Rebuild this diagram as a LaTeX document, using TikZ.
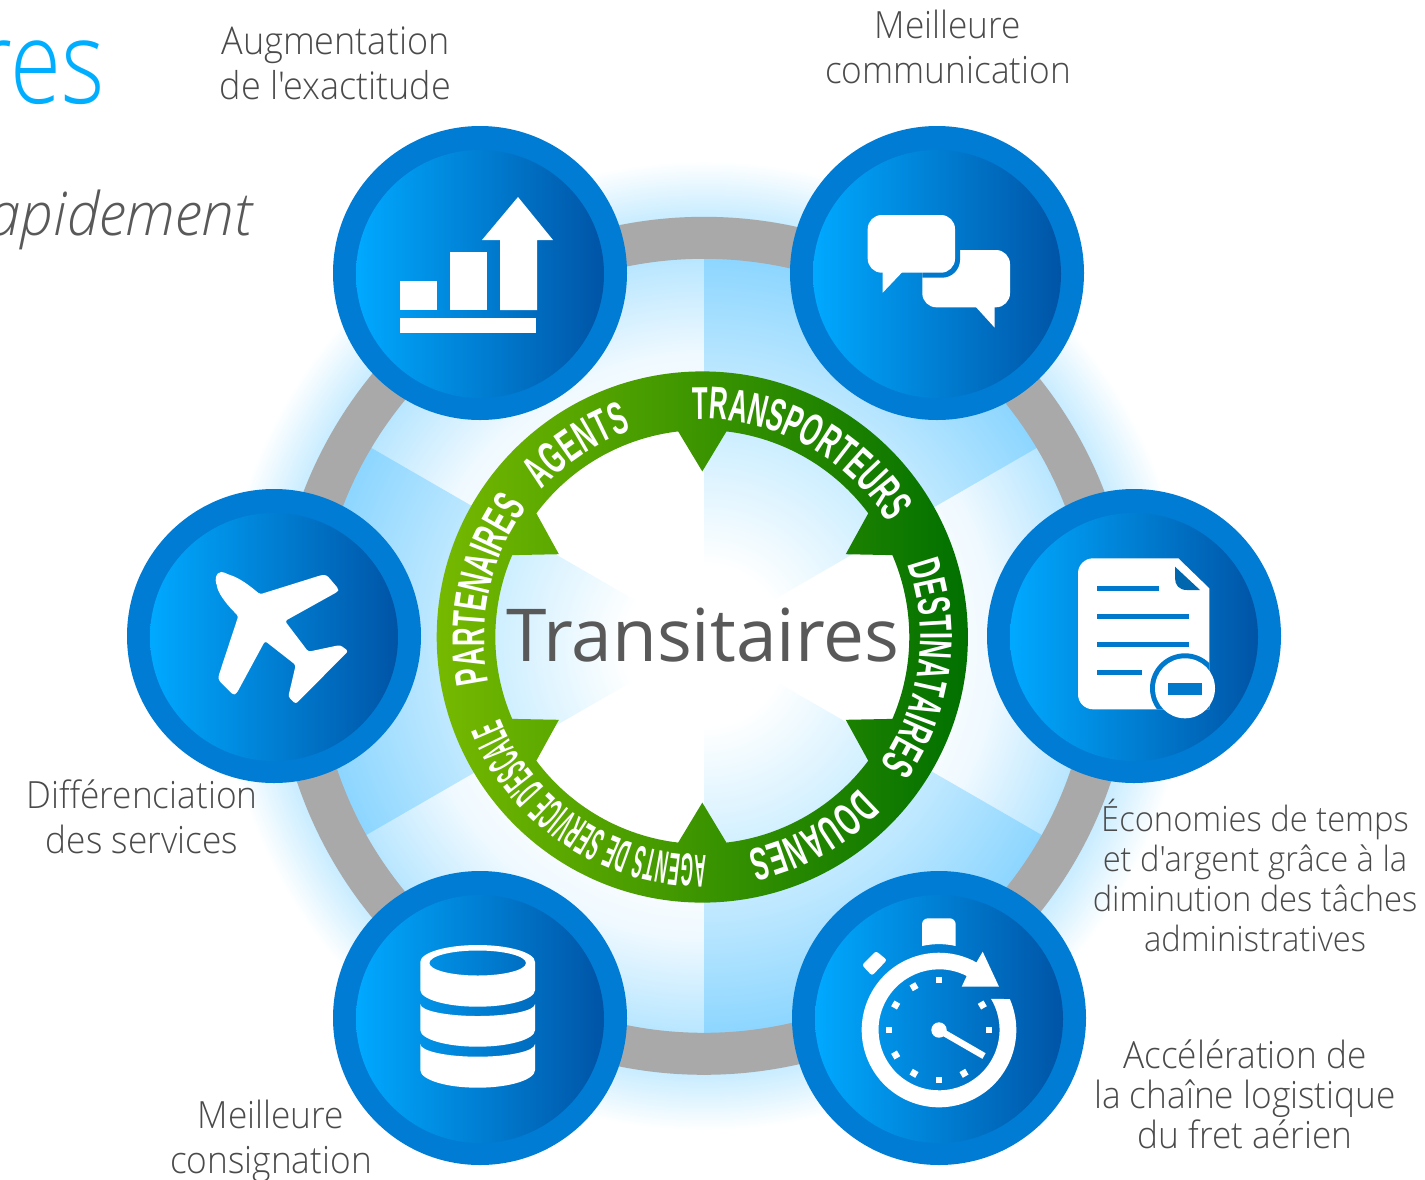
\documentclass[tikz,border=0pt]{standalone}
\usepackage{fontspec}
\usetikzlibrary{decorations.text}
\setmainfont{Open Sans}
\newfontfamily\labfont[FakeStretch=0.94]{Open Sans Light}
\newfontfamily\bigfont[FakeStretch=1.0]{Open Sans}
\newfontfamily\titlefont[FakeStretch=0.80]{Open Sans Light}
\newfontfamily\subfont[FakeStretch=0.97,ItalicFont={Open Sans Light Italic}]{Open Sans Light}
\newfontfamily\ringA[FakeStretch=0.56]{Liberation Sans Bold}
\newfontfamily\ringB[FakeStretch=0.35]{Liberation Sans Bold}
\definecolor{txt}{HTML}{595959}
\definecolor{labtxt}{HTML}{4A4A4A}
\definecolor{titleblue}{HTML}{00AEFF}
\definecolor{discout}{HTML}{007CD4}
\definecolor{discL}{HTML}{00A9FF}
\definecolor{discR}{HTML}{0054A6}
\definecolor{ringL}{HTML}{76B900}
\definecolor{ringR}{HTML}{007000}
\definecolor{grayring}{HTML}{A9A9A9}
\definecolor{iconblue}{HTML}{0078CC}
\definecolor{la}{HTML}{EFF9FF}
\definecolor{lb}{HTML}{B8E6FF}
\definecolor{lc}{HTML}{C8ECFF}
\definecolor{ba}{HTML}{CFEFFF}
\definecolor{bb}{HTML}{BEE8FF}
\definecolor{bc}{HTML}{8DD6FF}
\pgfdeclareradialshading{glowlight}{\pgfpoint{0bp}{0bp}}{color(0bp)=(white); color(11.08bp)=(white); color(15.05bp)=(la); color(19.95bp)=(lb); color(22.11bp)=(lc); color(25bp)=(white); color(50bp)=(white)}
\pgfdeclareradialshading{glowblue}{\pgfpoint{0bp}{0bp}}{color(0bp)=(white); color(4.12bp)=(white); color(10.67bp)=(ba); color(13.8bp)=(bb); color(19.95bp)=(bc); color(22.11bp)=(lc); color(25bp)=(white); color(50bp)=(white)}
\tikzset{
  lab/.style={anchor=base,inner sep=0pt,text=labtxt,font=\labfont\fontsize{37.5}{37.5}\selectfont},
  labwide/.style={lab,font=\labfont\fontsize{38.3}{38.3}\selectfont},
  labsmall/.style={lab,font=\labfont\fontsize{34.8}{34.8}\selectfont},
  discouter/.style={fill=discout},
  discinner/.style={left color=discL,right color=discR},
  sector/.style={shading=glowblue},
  ringtext/.style={decorate,decoration={text along path,text align=fit to path,text={#1}}}
}
\begin{document}
\begin{tikzpicture}[x=1pt,y=1pt]
\useasboundingbox (0,0) rectangle (1425,-1179);
\clip (0,0) rectangle (1425,-1179);
\fill[white] (0,0) rectangle (1425,-1179);
% glow
\shade[shading=glowlight] (704,-645.5) circle (485);
\foreach \a in {90,-30,210}{
  \begin{scope}
    \clip[shift={(704,-640)}] (0,0) -- (\a:800) -- (\a-30:900) -- (\a-60:800) -- cycle;
    \shade[sector] (704,-645.5) circle (485);
  \end{scope}
}
% grey ring
\draw[grayring,line width=42pt] (704,-645.8) circle (408);
% green ring with arrows
\shade[left color=ringL,right color=ringR,even odd rule,shift={(702.3,-637)}]
  (0,0) circle (265.6)
  (83.3:207) arc[start angle=83.3,end angle=36.7,radius=207] -- (30:165.6)
  -- (23.3:207) arc[start angle=23.3,end angle=-23.3,radius=207] -- (-30:165.6)
  -- (-36.7:207) arc[start angle=-36.7,end angle=-83.3,radius=207] -- (-90:165.6)
  -- (-96.7:207) arc[start angle=-96.7,end angle=-143.3,radius=207] -- (-150:165.6)
  -- (-156.7:207) arc[start angle=-156.7,end angle=-203.3,radius=207] -- (-210:165.6)
  -- (-216.7:207) arc[start angle=-216.7,end angle=-263.3,radius=207] -- (90:165.6) -- cycle;
\begin{scope}[shift={(702.3,-637)}]
  \path[ringtext={|\ringA\fontsize{46}{46}\selectfont\color{white}|TRANSPORTEURS}] (92.5:218) arc[start angle=92.5,end angle=33,radius=218];
  \path[ringtext={|\ringA\fontsize{46}{46}\selectfont\color{white}|DESTINATAIRES}] (19.5:218) arc[start angle=19.5,end angle=-35.5,radius=218];
  \path[ringtext={|\ringA\fontsize{46}{46}\selectfont\color{white}|DOUANES}] (-44:218) arc[start angle=-44,end angle=-78,radius=218];
  \path[ringtext={|\ringB\fontsize{46}{46}\selectfont\color{white}|AGENTS DE SERVICE D'ESCALE}] (-89:218) arc[start angle=-89,end angle=-158,radius=218];
  \path[ringtext={|\ringA\fontsize{46}{46}\selectfont\color{white}|PARTENAIRES}] (192:218) arc[start angle=192,end angle=145,radius=218];
  \path[ringtext={|\ringA\fontsize{46}{46}\selectfont\color{white}|AGENTS}] (137.5:218) arc[start angle=137.5,end angle=109,radius=218];
\end{scope}
\node[anchor=base,inner sep=0pt,text=txt,font=\bigfont\fontsize{73}{73}\selectfont] (centre) at (703,-661) {Transitaires};
% discs
\foreach \x/\y in {480/273,937/273,1134/636,274/636,480/1018,939/1018}{
  \fill[discouter] (\x,-\y) circle (147);
  \shade[discinner] (\x,-\y-1) circle (124);
}
% chart icon
\fill[white] (400,-281) rectangle (437,-310);
\fill[white] (450,-252) rectangle (487,-310);
\fill[white] (500,-310) -- (500,-240) -- (482,-240) -- (518,-197) -- (553,-240) -- (537,-240) -- (537,-310) -- cycle;
\fill[white] (400,-318) rectangle (536,-333);
% chat icon
\fill[white,rounded corners=14pt] (922.3,-250) rectangle (1010,-307.3);
\fill[white] (975,-306) -- (994.7,-327.7) -- (994.7,-306) -- cycle;
\begin{scope}
  \clip[rounded corners=14pt] (922.3,-250) rectangle (1010,-307.3);
  \fill[iconblue,rounded corners=18pt] (863,-210) rectangle (960,-277.7);
\end{scope}
\fill[white,rounded corners=14pt] (867.7,-215) rectangle (955,-272.7);
\fill[white] (882.7,-271) -- (882.7,-292.7) -- (903.3,-271) -- cycle;
% plane icon
\fill[white,rounded corners=2.5pt]
  (216.7,-586) .. controls (214,-574) and (220,-570) .. (227,-574)
  .. controls (240,-578) and (250,-586) .. (260,-594.3)
  -- (321.7,-575) -- (326.7,-575) -- (338.6,-589) -- (337.7,-591.7)
  -- (285,-621) -- (308.3,-651.7) -- (340,-645) -- (348.3,-651)
  -- (295.7,-704) -- (288.3,-696.7) -- (295.7,-665) -- (265,-641)
  -- (236.7,-693.3) -- (233.3,-695) -- (219,-680.7) -- (218.3,-676.7)
  -- (238.3,-616) .. controls (228,-606) and (220,-596) .. (216.7,-586) -- cycle;
% database icon
\fill[white,even odd rule] (420.3,-962) arc[start angle=180,end angle=0,x radius=57.35,y radius=17]
  -- (535,-990) arc[start angle=0,end angle=-180,x radius=57.35,y radius=16.7] -- cycle
  (477.7,-963) ellipse[x radius=48.3,y radius=12.5];
\fill[white] (420.3,-1004) arc[start angle=180,end angle=360,x radius=57.35,y radius=12]
  -- (535,-1030) arc[start angle=0,end angle=-180,x radius=57.35,y radius=16.7] -- cycle;
\fill[white] (420.3,-1044) arc[start angle=180,end angle=360,x radius=57.35,y radius=12.7]
  -- (535,-1070) arc[start angle=0,end angle=-180,x radius=57.35,y radius=17.7] -- cycle;
% document icon
\begin{scope}
  \path[clip] (1178.3,-558.3) [rounded corners=15pt] -- (1078,-558.3) -- (1078,-709.3) [sharp corners] -- (1209.3,-709.3) -- (1209.3,-588.3) -- cycle;
  \fill[white] (1060,-540) rectangle (1230,-720);
  \fill[iconblue] (1185,-688.3) circle (35);
\end{scope}
\fill[iconblue!85!black] (1175,-566.7) -- (1200,-590) -- (1187,-590) .. controls (1179,-590) and (1175,-585) .. (1175,-578) -- cycle;
\fill[iconblue] (1096.7,-585.5) rectangle (1159.3,-590.5);
\fill[iconblue] (1096.7,-613.5) rectangle (1188.7,-618.5);
\fill[iconblue] (1096.7,-641.5) rectangle (1188.7,-646.5);
\fill[iconblue] (1096.7,-669.5) rectangle (1141.7,-674.5);
\fill[white] (1185,-688.3) circle (30);
\fill[iconblue] (1168,-683) rectangle (1202.3,-694.7);
% stopwatch icon
\fill[white] (939,-1030) ++(23.6:77.3) arc[start angle=23.6,end angle=-299,radius=77.3]
  -- (982.7,-951.7) -- (999,-986.7) -- (961.7,-986.7) -- (966.7,-976)
  arc[start angle=-297.2,end angle=30.8,radius=60.5] -- cycle;
\foreach \a in {90,120,150,180,210,240,270,300,0,30}{
  \fill[white,shift={(939,-1030)},rotate=\a] (46.7,-3.3) rectangle (53.3,3.3);
}
\fill[white] (939,-1030) circle (7.7);
\draw[white,line width=6.5pt] (939,-1030) -- (984,-1056);
\fill[white] (922,-946) -- (922,-924) [rounded corners=6pt] -- (922,-918.3) -- (955.7,-918.3) [sharp corners] -- (955.7,-946) .. controls (945,-943.5) and (933,-943.5) .. (922,-946) -- cycle;
\fill[white,rounded corners=2.5pt] (876,-951) -- (887,-960) -- (872,-975.7) -- (862,-965) -- cycle;
% labels
\node[anchor=base east,inner sep=0pt,text=titleblue,font=\titlefont\fontsize{116}{116}\selectfont] (title) at (105,-103) {res};
\node[anchor=base east,inner sep=0pt,text=txt,font=\subfont\itshape\fontsize{60}{60}\selectfont] (sub) at (252,-235) {apidement};
\node[labwide] (l1a) at (335.5,-54.3) {Augmentation};
\node[labwide] (l1b) at (335.5,-99) {de l'exactitude};
\node[lab] (l2a) at (948,-38) {Meilleure};
\node[lab] (l2b) at (948,-83) {communication};
\node[lab] (l3a) at (142,-808) {Différenciation};
\node[lab] (l3b) at (142,-853) {des services};
\node[lab] (l4a) at (271,-1128) {Meilleure};
\node[lab] (l4b) at (271,-1173) {consignation};
\node[labsmall] (l5a) at (1255,-831) {Économies de temps};
\node[labsmall] (l5b) at (1255,-871) {et d'argent grâce à la};
\node[labsmall] (l5c) at (1255,-911) {diminution des tâches};
\node[labsmall] (l5d) at (1255,-951) {administratives};
\node[lab] (l6a) at (1245,-1068) {Accélération de};
\node[lab] (l6b) at (1245,-1108) {la chaîne logistique};
\node[lab] (l6c) at (1245,-1148) {du fret aérien};
\end{tikzpicture}
\end{document}
